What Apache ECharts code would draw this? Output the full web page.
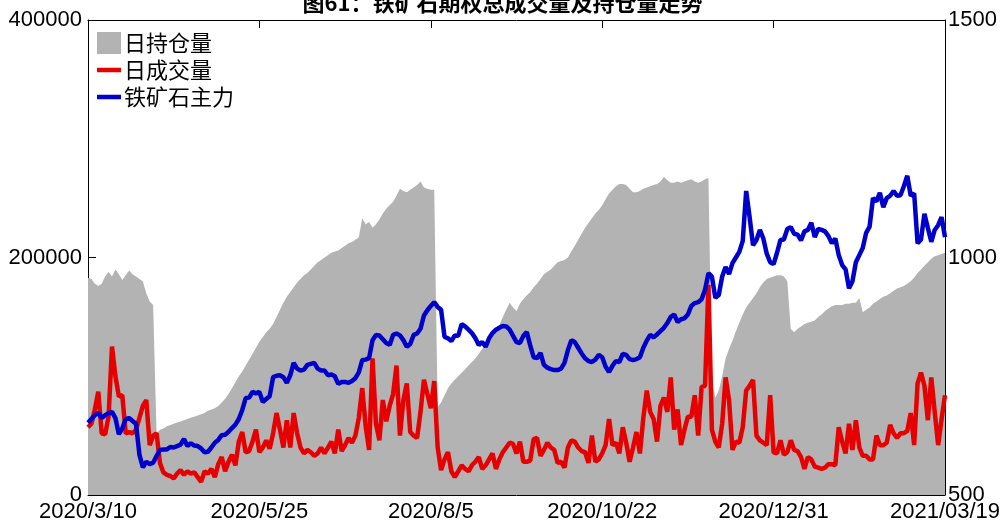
<!DOCTYPE html>
<html>
<head>
<meta charset="utf-8">
<script src="https://cdn.jsdelivr.net/npm/echarts@6/dist/echarts.min.js"></script>
<style>
html,body{margin:0;padding:0;background:#fff;}
#chart{width:1005px;height:525px;}
</style>
</head>
<body>
<div id="chart"></div>
<script>
const titleText = '图61：铁矿石期权总成交量及持仓量走势';
const seriesNames = ['日持仓量', '日成交量', '铁矿石主力'];
const tickLabels = ['2020/3/10', '2020/5/25', '2020/8/5', '2020/10/22', '2020/12/31', '2021/03/19'];
const leftTicks = [0, 200000, 400000];
const rightTicks = [500, 1000, 1500];

// 日持仓量 (open interest)
const openInterest = [
183000,182000,178000,176000,178000,184000,188000,184000,190000,186000,
181000,185000,189000,186000,184000,182000,180000,170000,163000,160000,
52000,55000,56000,58000,59000,60000,61000,62000,63000,64000,
65000,66000,67000,68000,69000,71000,72000,73000,75000,78000,
81000,85000,90000,95000,100000,104000,109000,114000,119000,124000,
129000,133000,137000,140000,144000,150000,156000,162000,167000,171000,
175000,179000,182000,185000,187000,190000,193000,196000,198000,200000,
202000,204000,205000,206000,208000,210000,212000,213000,215000,217000,
233000,228000,230000,225000,228000,232000,237000,241000,244000,247000,
252000,258000,256000,255000,257000,259000,261000,264000,259000,258000,
257000,257000,74000,78000,84000,90000,94000,97000,100000,103000,
106000,109000,112000,115000,119000,123000,126000,130000,134000,138000,
143000,150000,156000,162000,158000,155000,161000,165000,168000,171000,
175000,178000,182000,186000,188000,190000,193000,196000,197000,198000,
200000,205000,210000,215000,220000,225000,229000,233000,237000,240000,
244000,249000,254000,257000,260000,262000,262000,261000,258000,255000,
255000,256000,258000,259000,260000,261000,262000,264000,268000,265000,
263000,263000,264000,263000,264000,265000,266000,264000,263000,264000,
266000,267000,95000,82000,88000,100000,115000,123000,130000,138000,
145000,152000,158000,162000,166000,170000,175000,179000,182000,183000,
184000,185000,185000,184000,180000,140000,137000,140000,142000,144000,
145000,146000,147000,150000,152000,155000,157000,159000,160000,160000,
160000,161000,161000,162000,162000,166000,154000,156000,158000,161000,
163000,165000,167000,168000,170000,172000,174000,175000,176000,178000,
180000,183000,187000,190000,193000,196000,199000,201000,202000,203000,
204000
];

// 日成交量 (daily volume)
const volume = [
57000,60000,72000,87000,52000,51000,66000,125000,100000,83000,
84000,52000,53000,52000,55000,65000,75000,80000,42000,50000,
52000,27000,19000,17000,16000,14000,18000,21000,17000,20000,
18000,19000,15000,11000,20000,18000,22000,15000,26000,32000,
20000,28000,34000,25000,45000,53000,36000,37000,45000,55000,
36000,40000,46000,39000,52000,69000,55000,40000,63000,40000,
69000,52000,40000,35000,38000,36000,33000,35000,40000,35000,
40000,45000,35000,55000,37000,42000,48000,44000,50000,65000,
90000,58000,38000,115000,60000,46000,80000,62000,75000,85000,
109000,50000,80000,94000,53000,50000,48000,70000,97000,85000,
73000,96000,40000,21000,30000,36000,20000,15000,20000,25000,
22000,20000,25000,28000,32000,22000,25000,30000,35000,22000,
30000,36000,40000,44000,43000,35000,45000,28000,28000,29000,
47000,48000,33000,38000,44000,40000,38000,27000,28000,23000,
40000,46000,45000,40000,37000,36000,27000,50000,28000,30000,
35000,42000,64000,42000,44000,35000,57000,44000,28000,40000,
53000,35000,65000,88000,70000,64000,45000,75000,82000,70000,
99000,55000,72000,42000,55000,66000,66000,84000,50000,91000,
92000,177000,55000,45000,40000,60000,99000,80000,38000,45000,
44000,57000,88000,92000,97000,50000,46000,44000,42000,84000,
36000,35000,46000,34000,36000,46000,38000,37000,32000,22000,
32000,30000,24000,23000,22000,23000,26000,26000,25000,57000,
45000,35000,60000,38000,63000,40000,33000,33000,30000,30000,
50000,42000,42000,44000,59000,52000,48000,52000,52000,54000,
69000,42000,94000,103000,92000,63000,99000,70000,42000,64000,
84000
];

// 铁矿石主力 (main contract price)
const price = [
652,660,668,673,662,668,672,675,662,628,
640,660,662,656,650,585,558,570,565,568,
582,595,596,596,601,600,603,606,618,603,
609,604,603,598,590,591,600,610,616,626,
627,633,641,648,660,679,704,705,717,714,
717,696,702,708,748,751,752,748,736,752,
778,766,762,764,774,776,778,766,762,762,
752,754,750,734,738,738,736,740,746,758,
784,785,788,826,837,836,828,820,816,837,
840,836,826,812,818,837,840,850,878,889,
898,906,896,890,833,830,824,836,835,860,
855,848,841,830,816,822,812,830,841,848,
852,856,855,848,835,822,820,835,843,815,
790,788,799,774,768,765,763,763,766,778,
805,826,822,810,798,788,782,780,785,795,
790,770,759,772,782,780,797,795,786,784,
786,790,810,825,837,832,838,845,852,862,
875,880,864,870,872,880,898,904,906,912,
932,967,960,915,921,960,980,965,988,1000,
1012,1035,1140,1085,1026,1037,1058,1040,1008,990,
986,1010,1037,1038,1060,1064,1050,1048,1036,1055,
1058,1073,1043,1060,1058,1055,1045,1030,1040,1005,
984,975,935,950,990,1005,1020,1052,1065,1125,
1118,1136,1106,1125,1130,1140,1130,1131,1150,1172,
1130,1135,1030,1038,1092,1062,1033,1058,1068,1085,
1043
];

// trading-day positions (one per observation)
const categories = openInterest.map((_, i) => i);
const tickStep = (categories.length - 1) / (tickLabels.length - 1);

const chart = echarts.init(document.getElementById('chart'), null, {renderer: 'canvas'});
const labelFont = 'Liberation Sans, Arial, sans-serif';
const cjkFont = 'Noto Sans CJK SC, sans-serif';
const lineIcon = 'path://M0,0 L24,0 L24,4.5 L0,4.5 Z';

const option = {
  animation: false,
  backgroundColor: '#ffffff',
  title: {
    text: titleText,
    left: 'center',
    top: -13,
    textStyle: {fontSize: 22, fontWeight: 'bold', color: '#000', fontFamily: cjkFont}
  },
  legend: {
    orient: 'vertical',
    left: 92,
    top: 27,
    itemWidth: 24,
    itemHeight: 22,
    itemGap: 5,
    symbolKeepAspect: true,
    textStyle: {fontSize: 22, color: '#000', fontFamily: cjkFont, padding: [0, 0, 0, -2]},
    data: [
      {name: seriesNames[0], icon: 'rect'},
      {name: seriesNames[1], icon: lineIcon},
      {name: seriesNames[2], icon: lineIcon}
    ]
  },
  grid: {left: 88, right: 60, top: 20, bottom: 30, containLabel: false},
  xAxis: [
    {
      type: 'category',
      data: categories,
      boundaryGap: false,
      axisLine: {lineStyle: {color: '#000', width: 1}},
      axisTick: {inside: true, length: 8, interval: tickStep - 1, lineStyle: {color: '#000'}},
      axisLabel: {
        interval: tickStep - 1,
        margin: 6,
        fontSize: 22,
        color: '#000',
        fontFamily: labelFont,
        formatter: (v, idx) => (idx % tickStep === 0 ? tickLabels[idx / tickStep] : '')
      },
      splitLine: {show: false}
    },
    {
      type: 'category',
      data: categories,
      position: 'top',
      boundaryGap: false,
      axisLine: {lineStyle: {color: '#000', width: 1}},
      axisTick: {inside: true, length: 8, interval: tickStep - 1, lineStyle: {color: '#000'}},
      axisLabel: {show: false},
      splitLine: {show: false}
    }
  ],
  yAxis: [
    {
      type: 'value',
      min: leftTicks[0],
      max: leftTicks[leftTicks.length - 1],
      interval: leftTicks[1] - leftTicks[0],
      axisLine: {show: true, lineStyle: {color: '#000', width: 1}},
      axisTick: {show: true, inside: true, length: 8, lineStyle: {color: '#000'}},
      axisLabel: {fontSize: 22, color: '#000', fontFamily: labelFont, margin: 6, formatter: v => String(v)},
      splitLine: {show: false}
    },
    {
      type: 'value',
      min: rightTicks[0],
      max: rightTicks[rightTicks.length - 1],
      interval: rightTicks[1] - rightTicks[0],
      position: 'right',
      axisLine: {show: true, lineStyle: {color: '#000', width: 1}},
      axisTick: {show: true, inside: true, length: 8, lineStyle: {color: '#000'}},
      axisLabel: {fontSize: 22, color: '#000', fontFamily: labelFont, margin: 3, formatter: v => String(v)},
      splitLine: {show: false}
    }
  ],
  series: [
    {
      name: seriesNames[0],
      type: 'line',
      xAxisIndex: 0,
      yAxisIndex: 0,
      data: openInterest,
      symbol: 'none',
      color: '#b3b3b3',
      lineStyle: {width: 0, color: '#b3b3b3'},
      areaStyle: {color: '#b3b3b3', opacity: 1},
      z: 1
    },
    {
      name: seriesNames[1],
      type: 'line',
      xAxisIndex: 0,
      yAxisIndex: 0,
      data: volume,
      symbol: 'none',
      color: '#e60000',
      lineStyle: {width: 4.5, color: '#e60000'},
      z: 2
    },
    {
      name: seriesNames[2],
      type: 'line',
      xAxisIndex: 0,
      yAxisIndex: 1,
      data: price,
      symbol: 'none',
      color: '#0000cc',
      lineStyle: {width: 4.5, color: '#0000cc'},
      z: 3
    }
  ]
};
chart.setOption(option);
</script>
</body>
</html>
